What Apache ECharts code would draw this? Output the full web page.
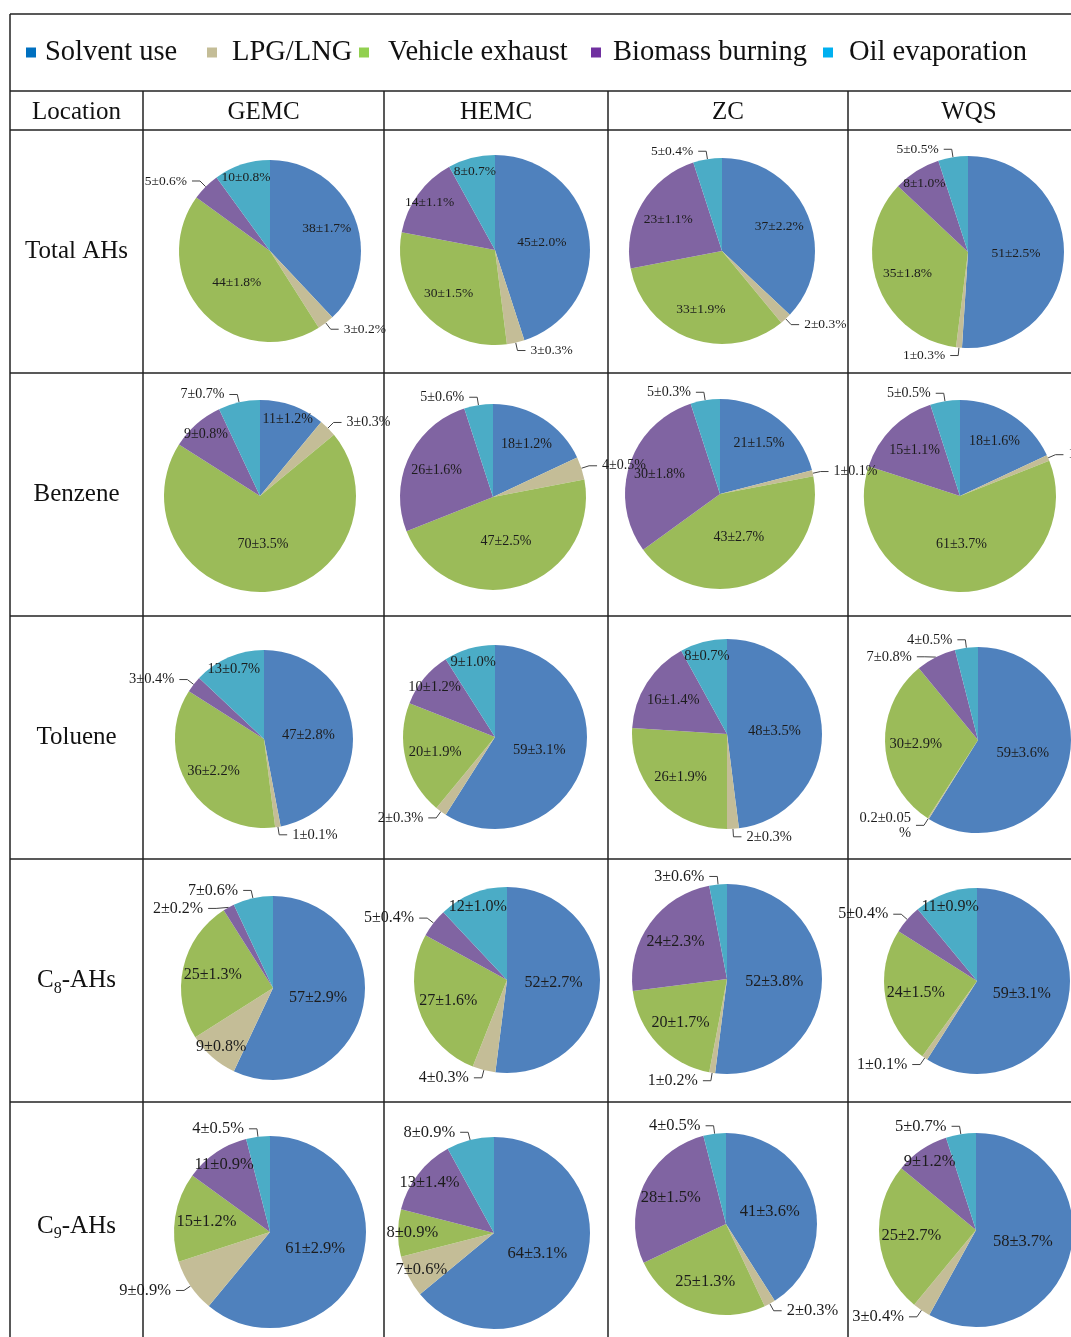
<!DOCTYPE html>
<html>
<head>
<meta charset="utf-8">
<script src="https://cdn.jsdelivr.net/npm/echarts@6/dist/echarts.min.js"></script>
<style>
html, body { margin: 0; padding: 0; background: #fff; }
#chart { width: 1071px; height: 1337px; }
</style>
</head>
<body>
<div id="chart"></div>
<script>
const sources = ["Solvent use", "LPG/LNG", "Vehicle exhaust", "Biomass burning", "Oil evaporation"];
const locations = ["GEMC", "HEMC", "ZC", "WQS"];
const speciesNames = ["Total AHs", "Benzene", "Toluene", "C8-AHs", "C9-AHs"];

// contribution (%) per location, same order as sources
const totalAHs = [[38, 3, 44, 5, 10], [45, 3, 30, 14, 8], [37, 2, 33, 23, 5], [51, 1, 35, 8, 5]];
const totalAHsErr = [["1.7", "0.2", "1.8", "0.6", "0.8"], ["2.0", "0.3", "1.5", "1.1", "0.7"], ["2.2", "0.3", "1.9", "1.1", "0.4"], ["2.5", "0.3", "1.8", "1.0", "0.5"]];
const benzene = [[11, 3, 70, 9, 7], [18, 4, 47, 26, 5], [21, 1, 43, 30, 5], [18, 1, 61, 15, 5]];
const benzeneErr = [["1.2", "0.3", "3.5", "0.8", "0.7"], ["1.2", "0.5", "2.5", "1.6", "0.6"], ["1.5", "0.1", "2.7", "1.8", "0.3"], ["1.6", "0.1", "3.7", "1.1", "0.5"]];
const toluene = [[47, 1, 36, 3, 13], [59, 2, 20, 10, 9], [48, 2, 26, 16, 8], [59, 0.2, 30, 7, 4]];
const tolueneErr = [["2.8", "0.1", "2.2", "0.4", "0.7"], ["3.1", "0.3", "1.9", "1.2", "1.0"], ["3.5", "0.3", "1.9", "1.4", "0.7"], ["3.6", "0.05", "2.9", "0.8", "0.5"]];
const c8AHs = [[57, 9, 25, 2, 7], [52, 4, 27, 5, 12], [52, 1, 20, 24, 3], [59, 1, 24, 5, 11]];
const c8AHsErr = [["2.9", "0.8", "1.3", "0.2", "0.6"], ["2.7", "0.3", "1.6", "0.4", "1.0"], ["3.8", "0.2", "1.7", "2.3", "0.6"], ["3.1", "0.1", "1.5", "0.4", "0.9"]];
const c9AHs = [[61, 9, 15, 11, 4], [64, 7, 8, 13, 8], [41, 2, 25, 28, 4], [58, 3, 25, 9, 5]];
const c9AHsErr = [["2.9", "0.9", "1.2", "0.9", "0.5"], ["3.1", "0.6", "0.9", "1.4", "0.9"], ["3.6", "0.3", "1.3", "1.5", "0.5"], ["3.7", "0.4", "2.7", "1.2", "0.7"]];

const allValues = [totalAHs, benzene, toluene, c8AHs, c9AHs];
const allErrors = [totalAHsErr, benzeneErr, tolueneErr, c8AHsErr, c9AHsErr];

// styles
const pieColors = ["#4F81BD", "#C4BD97", "#9BBB59", "#8064A2", "#4BACC6"];
const legendColors = ["#0070C0", "#C4BD97", "#92D050", "#7030A0", "#00B0F0"];
const serif = "'Liberation Serif', 'Times New Roman', serif";

// table layout
const colX = [10, 143, 384, 608, 848];
const rowY = [130, 373, 616, 859, 1102];
const pieLayout = [
    [[270, 251, 91], [495, 250, 95], [722, 251, 93], [968, 252, 96]],
    [[260, 496, 96], [493, 497, 93], [720, 494, 95], [960, 496, 96]],
    [[264, 739, 89], [495, 737, 92], [727, 734, 95], [978, 740, 93]],
    [[273, 988, 92], [507, 980, 93], [727, 979, 95], [977, 981, 93]],
    [[270, 1232, 96], [494, 1233, 96], [726, 1224, 91], [976, 1230, 97]]
];
const labelSizes = [13.5, 14, 14.5, 16, 16.5];
// larger slices whose label still sits outside the pie
const extraOutside = ["1-0-4", "3-0-4", "4-0-1", "4-1-4", "2-3-3"];

// inside labels: how far out from the centre (share of radius), by slice size
const insideRadius = v => (v >= 40 ? 0.47 : v >= 15 ? 0.63 : 0.8);

const chart = echarts.init(document.getElementById("chart"));

let graphics = [];
const line = (x1, y1, x2, y2) => graphics.push({
    type: "line", silent: true,
    shape: { x1, y1, x2, y2 },
    style: { stroke: "#222", lineWidth: 1.5 }
});
const text = (t, x, y, rich) => graphics.push({
    type: "text", silent: true,
    style: {
        text: t, x, y, align: "center", verticalAlign: "middle",
        fontFamily: serif, fontSize: 25, fill: "#111", rich
    }
});

// grid lines
line(10, 14, 1071, 14);
line(10, 91, 1071, 91);
line(10, 14, 10, 1337);
for (let y of rowY) line(10, y, 1071, y);
for (let i = 1; i < colX.length; i++) line(colX[i], 91, colX[i], 1337);

// headers
text("Location", (colX[0] + colX[1]) / 2, 112);
locations.forEach((loc, j) => {
    let x1 = colX[j + 1];
    let x2 = j + 2 < colX.length ? colX[j + 2] : 1090;
    text(loc, (x1 + x2) / 2, 112);
});
const subRich = {
    m: { fontFamily: serif, fontSize: 25, fill: "#111", lineHeight: 32 },
    s: { fontFamily: serif, fontSize: 16, fill: "#111", lineHeight: 16, verticalAlign: "bottom" }
};
speciesNames.forEach((name, i) => {
    let cy = i + 1 < rowY.length ? (rowY[i] + rowY[i + 1]) / 2 : 1226;
    let m = name.match(/^C(\d)(.*)$/);
    if (m) {
        text("{m|C}{s|" + m[1] + "}{m|" + m[2] + "}", 76.5, cy, subRich);
    } else {
        text(name, 76.5, cy);
    }
});

// pies
let series = [];
speciesNames.forEach((name, i) => {
    locations.forEach((loc, j) => {
        const vals = allValues[i][j];
        const errs = allErrors[i][j];
        const [cx, cy, r] = pieLayout[i][j];
        const isOutside = k => vals[k] <= 5 || extraOutside.includes(i + "-" + j + "-" + k);
        series.push({
            type: "pie",
            name: name + " " + loc,
            center: [cx, cy],
            radius: r,
            startAngle: 90,
            clockwise: true,
            animation: false,
            silent: true,
            avoidLabelOverlap: true,
            label: {
                fontFamily: serif,
                fontSize: labelSizes[i],
                color: "#1c1c1c",
                formatter: p => {
                    let s = vals[p.dataIndex] + "±" + errs[p.dataIndex];
                    return vals[p.dataIndex] < 1 ? s + "\n%" : s + "%";
                }
            },
            labelLine: {
                length: 8,
                length2: 8,
                lineStyle: { color: "#404040", width: 1 }
            },
            // push inside labels outward along the ray the library placed them on (default is r/2)
            labelLayout: p => {
                if (isOutside(p.dataIndex)) return {};
                let lx = p.labelRect.x + p.labelRect.width / 2;
                let ly = p.labelRect.y + p.labelRect.height / 2;
                let f = insideRadius(vals[p.dataIndex]) / 0.5 - 1;
                return { dx: (lx - cx) * f, dy: (ly - cy) * f };
            },
            data: vals.map((v, k) => ({
                name: sources[k],
                value: v,
                itemStyle: { color: pieColors[k] },
                label: isOutside(k) ? { position: "outside", width: 70 } : { position: "inside" },
                labelLine: { show: isOutside(k) }
            }))
        });
    });
});

// one legend box per item, spaced like the original
const legendLeft = [26, 207, 359, 591, 823];
const legendTextGap = [4, 10, 14, 7, 11];
const legends = sources.map((s, k) => ({
    data: [{ name: s, itemStyle: { color: legendColors[k] } }],
    left: legendLeft[k],
    top: 38,
    padding: 0,
    icon: "rect",
    itemWidth: 10,
    itemHeight: 10,
    selectedMode: false,
    textStyle: { fontFamily: serif, fontSize: 28.5, color: "#111", padding: [0, 0, 0, legendTextGap[k]] }
}));

chart.setOption({
    animation: false,
    legend: legends,
    graphic: graphics,
    series
});
</script>
</body>
</html>
